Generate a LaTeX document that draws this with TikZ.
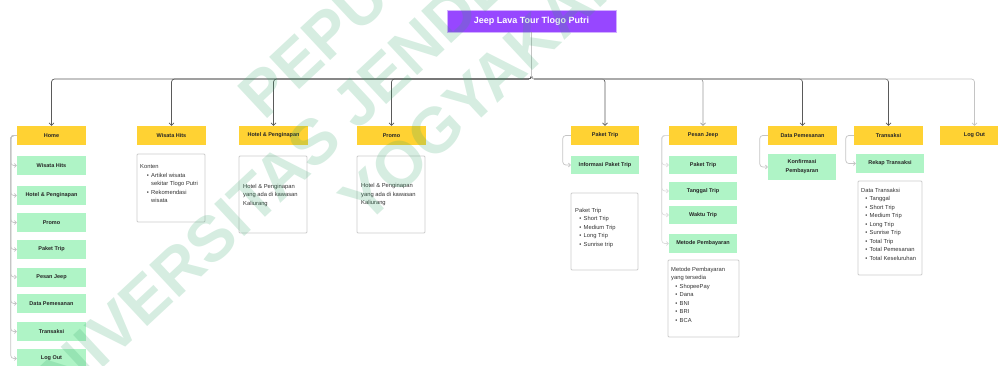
\documentclass[tikz,border=0pt]{standalone}
\usepackage{fontspec}
\setmainfont{Liberation Sans}
\usetikzlibrary{arrows.meta}
\definecolor{ylw}{HTML}{FFD233}
\definecolor{grn}{HTML}{AFF4C6}
\definecolor{prp}{HTML}{9747FF}
\definecolor{prpb}{HTML}{D2B0FF}
\definecolor{dk}{HTML}{5A5A5A}
\definecolor{md}{HTML}{9A9A9A}
\definecolor{lt}{HTML}{C4C4C4}
\definecolor{wm}{RGB}{50,165,105}
\newcommand\bl[1][8.5pt]{\makebox[#1][r]{\textbullet\hspace{2.2pt}}}
\begin{document}
\begin{tikzpicture}[x=1pt,y=-1pt,
  lbl/.style={font=\fontsize{5.5}{6.5}\selectfont\bfseries, text=black!85, inner sep=0pt, align=center},
  ybox/.style={lbl, fill=ylw, minimum width=69pt, minimum height=19pt},
  gbox/.style={lbl, fill=grn, minimum width=69pt, minimum height=19pt},
  cbox/.style={draw=black!20, line width=0.8pt, fill=white, rounded corners=1pt, inner sep=0pt},
  ctext/.style={font=\fontsize{5.8}{8.5}\selectfont, text=black!80, inner sep=0pt, align=left, anchor=north west},
  tree/.style={line width=0.7pt, rounded corners=3pt, -{Straight Barb[length=2.5pt,width=5pt]}},
  side/.style={draw=lt, line width=0.7pt, rounded corners=3pt, -{Straight Barb[length=2pt,width=4pt]}},
  wmk/.style={font=\fontsize{64}{64}\selectfont\bfseries, text=wm, text opacity=0.2, rotate=43, anchor=west, inner sep=0pt}
]
\useasboundingbox (0,0) rectangle (998,366);
\clip (0,0) rectangle (998,366);

% title
\node[fill=prp, draw=prpb, line width=0.6pt, minimum width=169pt, minimum height=22pt, inner sep=0pt,
      text=white, font=\fontsize{9}{10}\selectfont\bfseries] (title) at (531.5,21) {Jeep Lava Tour Tlogo Putri};

% top level
\node[ybox] (home) at (51.5,135.5) {Home};
\node[ybox] (wisata) at (171.5,135.5) {Wisata Hits};
\node[ybox] (hotel) at (273.5,135.5) {Hotel \& Penginapan};
\node[ybox] (promo) at (391.5,135.5) {Promo};
\node[ybox, minimum width=68pt] (paket) at (605,135.5) {Paket Trip};
\node[ybox, minimum width=68pt] (pesan) at (703,135.5) {Pesan Jeep};
\node[ybox] (datap) at (802.5,135.5) {Data Pemesanan};
\node[ybox] (trans) at (888.5,135.5) {Transaksi};
\node[ybox] (logout) at (974.5,135.5) {Log Out};

% home column
\node[gbox] (l1) at (51.5,165.5) {Wisata Hits};
\node[gbox] (l2) at (51.5,195.5) {Hotel \& Penginapan};
\node[gbox] (l3) at (51.5,222.5) {Promo};
\node[gbox] (l4) at (51.5,249.5) {Paket Trip};
\node[gbox] (l5) at (51.5,277) {Pesan Jeep};
\node[gbox] (l6) at (51.5,303.5) {Data Pemesanan};
\node[gbox] (l7) at (51.5,331.5) {Transaksi};
\node[gbox] (l8) at (51.5,358.5) {Log Out};

% other children
\node[gbox, minimum width=68pt, minimum height=18.5pt] (info) at (605,165) {Informasi Paket Trip};
\node[gbox, minimum width=68pt, minimum height=18.5pt] (p1) at (703,165) {Paket Trip};
\node[gbox, minimum width=68pt, minimum height=18.5pt] (p2) at (703,191) {Tanggal Trip};
\node[gbox, minimum width=68pt, minimum height=18.5pt] (p3) at (703,215) {Waktu Trip};
\node[gbox, minimum width=68pt, minimum height=18.5pt] (p4) at (703,243.5) {Metode Pembayaran};
\node[gbox, minimum width=68pt, minimum height=26pt, font=\fontsize{5.5}{9}\selectfont\bfseries] (konf) at (802,167) {Konfirmasi\\Pembayaran};
\node[gbox, minimum width=68pt] (rekap) at (890,163.5) {Rekap Transaksi};

% content boxes
\node[cbox, minimum width=68pt, minimum height=68pt] (cw) at (171,188) {};
\node[cbox, minimum width=68pt, minimum height=77pt] (ch) at (273,194.5) {};
\node[cbox, minimum width=68pt, minimum height=77pt] (cp) at (391,194.5) {};
\node[cbox, minimum width=67pt, minimum height=77pt] (ck) at (604.5,231.5) {};
\node[cbox, minimum width=71pt, minimum height=77pt] (cm) at (703.5,298.5) {};
\node[cbox, minimum width=64pt, minimum height=94pt] (ct) at (890,228) {};

\node[ctext] (tw) at (140,164.7) {Konten\\\bl[11pt]Artikel wisata\\\hspace*{11pt}sekitar Tlogo Putri\\\bl[11pt]Rekomendasi\\\hspace*{11pt}wisata};
\node[ctext] (th) at (243,183.6) {Hotel \& Penginapan\\yang ada di kawasan\\Kaliurang};
\node[ctext] (tp) at (361,183.4) {Hotel \& Penginapan\\yang ada di kawasan\\Kaliurang};
\node[ctext] (tk) at (575,207.7) {Paket Trip\\\bl Short Trip\\\bl Medium Trip\\\bl Long Trip\\\bl Sunrise trip};
\node[ctext] (tm) at (671,266.7) {Metode Pembayaran\\yang tersedia\\\bl ShopeePay\\\bl Dana\\\bl BNI\\\bl BRI\\\bl BCA};
\node[ctext] (tt) at (861,187.7) {Data Transaksi\\\bl Tanggal\\\bl Short Trip\\\bl Medium Trip\\\bl Long Trip\\\bl Sunrise Trip\\\bl Total Trip\\\bl Total Pemesanan\\\bl Total Keseluruhan};

% tree connectors
\coordinate (bus) at (0,79);
\foreach \c in {home,wisata,hotel,promo,paket,datap,trans}
  \draw[tree,dk] (title.south) |- (\c.north |- bus) -- (\c.north);
\draw[tree,md] (title.south) |- (pesan.north |- bus) -- (pesan.north);
\draw[tree,lt] (title.south) |- (logout.north |- bus) -- (logout.north);

% side connectors
\foreach \c in {l1,l2,l3,l4,l5,l6,l7,l8}
  \draw[side] (home.west) -- ++(-6,0) |- (\c.west);
\draw[side] (paket.west) -- ++(-8,0) |- (info.west);
\foreach \c in {p1,p2,p3,p4}
  \draw[side, draw=black!14] (pesan.west) -- ++(-7,0) |- (\c.west);
\draw[side] (datap.west) -- ++(-8,0) |- (konf.west);
\draw[side] (trans.west) -- ++(-8,0) |- (rekap.west);

% watermark
\node[wmk] (wm1) at (250,106) {PEPU};
\node[wmk] (wm2) at (18,418) {UNIVERSITAS JENDERAL};
\node[wmk] (wm3) at (350,211) {YOGYAKARTA};
\end{tikzpicture}
\end{document}
